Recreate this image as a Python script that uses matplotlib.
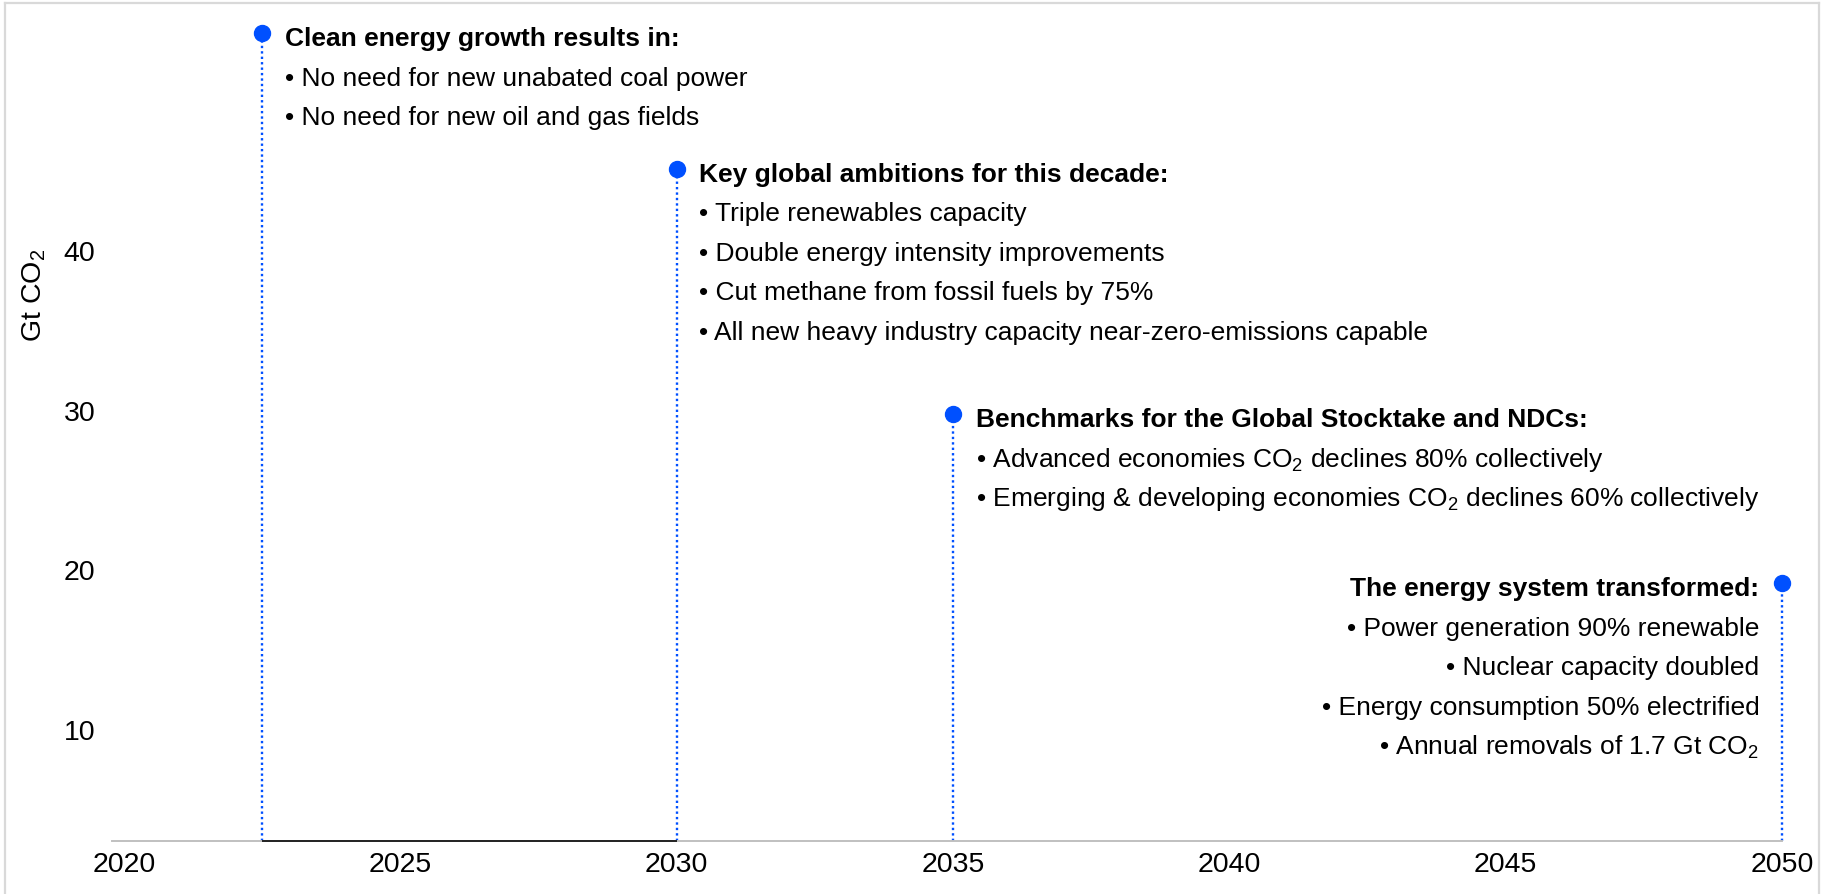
import matplotlib
matplotlib.use("Agg")
import matplotlib.pyplot as plt
from matplotlib.lines import Line2D

plt.rcParams['font.family'] = ['Liberation Sans', 'DejaVu Sans']
plt.rcParams['mathtext.fontset'] = 'custom'
plt.rcParams['mathtext.rm'] = 'Liberation Sans'
plt.rcParams['mathtext.it'] = 'Liberation Sans:italic'
plt.rcParams['mathtext.bf'] = 'Liberation Sans:bold'

# ---- data ----
milestone_years = [2022.5, 2030, 2035, 2050]
milestone_levels = [53.7, 45.2, 29.8, 19.2]
milestone_titles = [
    "Clean energy growth results in:",
    "Key global ambitions for this decade:",
    "Benchmarks for the Global Stocktake and NDCs:",
    "The energy system transformed:",
]
milestone_bullets = [
    ["No need for new unabated coal power",
     "No need for new oil and gas fields"],
    ["Triple renewables capacity",
     "Double energy intensity improvements",
     "Cut methane from fossil fuels by 75%",
     "All new heavy industry capacity near-zero-emissions capable"],
    ["Advanced economies CO$_\\mathrm{2}$ declines 80% collectively",
     "Emerging & developing economies CO$_\\mathrm{2}$ declines 60% collectively"],
    ["Power generation 90% renewable",
     "Nuclear capacity doubled",
     "Energy consumption 50% electrified",
     "Annual removals of 1.7 Gt CO$_\\mathrm{2}$"],
]
milestone_align = ["left", "left", "left", "right"]
baseline_years = [2022.5, 2030]
baseline_values = [3.04, 3.04]
x_ticks = [2020, 2025, 2030, 2035, 2040, 2045, 2050]
y_ticks = [10, 20, 30, 40]
y_label = "Gt CO$_\\mathrm{2}$"

# ---- figure ----
W, H = 1831, 894
fig = plt.figure(figsize=(W / 100, H / 100), dpi=100)
ax = fig.add_axes([112 / W, 53 / H, (1782 - 112) / W, (841 - 12.25) / H])
ax.set_xlim(2019.78, 2050)
ax.set_ylim(3.04, 55)

blue = "#0050ff"
for yr, lvl in zip(milestone_years, milestone_levels):
    ax.plot([yr, yr], [3.04, lvl], color=blue, lw=1.7,
            linestyle=(0, (1, 1.3)), dash_capstyle='butt', clip_on=False, zorder=2)
    ax.plot([yr], [lvl], marker='o', ms=11.5, color=blue, mec=blue,
            clip_on=False, zorder=3)

ax.plot(baseline_years, baseline_values, color="#222222", lw=1.4,
        clip_on=False, zorder=4, solid_capstyle='butt')

fs = 19
dx = 16.3
dy0 = -9.4
step = 28.5
for yr, lvl, title, bl, al in zip(milestone_years, milestone_levels,
                                  milestone_titles, milestone_bullets, milestone_align):
    sign = 1 if al == "left" else -1
    ax.annotate(title, xy=(yr, lvl), xytext=(sign * dx, dy0),
                textcoords='offset points', ha=al, va='baseline',
                fontsize=fs, fontweight='bold', color='black')
    for i, b in enumerate(bl):
        ax.annotate("\u2022 " + b, xy=(yr, lvl), xytext=(sign * dx, dy0 - step * (i + 1)),
                    textcoords='offset points', ha=al, va='baseline',
                    fontsize=fs, color='black')

for s in ['top', 'right', 'left']:
    ax.spines[s].set_visible(False)
ax.spines['bottom'].set_color("#c0c0c0")
ax.spines['bottom'].set_linewidth(1.4)

ax.set_xticks(x_ticks)
ax.set_xticklabels([str(t) for t in x_ticks])
ax.set_yticks(y_ticks)
ax.set_yticklabels([str(t) for t in y_ticks])
ax.tick_params(axis='x', length=0, pad=8, labelsize=20.5)
ax.tick_params(axis='y', length=0, pad=12, labelsize=20.5)

fig.text(34 / W, 1 - 295 / H, y_label, rotation=90, ha='center', va='center',
         fontsize=20.5)

# figure border (left, top, right)
border = "#d9d9d9"
fig.add_artist(Line2D([5.5 / W, 5.5 / W], [0, 1 - 3 / H], transform=fig.transFigure,
                      color=border, lw=1.6))
fig.add_artist(Line2D([5.5 / W, 1819.5 / W], [1 - 3 / H, 1 - 3 / H], transform=fig.transFigure,
                      color=border, lw=1.6))
fig.add_artist(Line2D([1819.5 / W, 1819.5 / W], [0, 1 - 3 / H], transform=fig.transFigure,
                      color=border, lw=1.6))

fig.savefig("out.png", dpi=100)
